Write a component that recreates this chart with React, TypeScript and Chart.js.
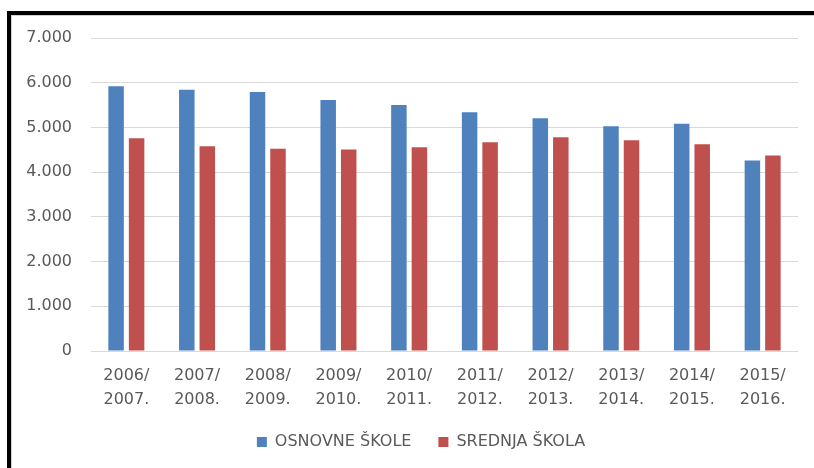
import React, { useEffect, useRef } from "react";
import { Chart, registerables } from "chart.js";

Chart.register(...registerables);

const categories: string[][] = [
  ["2006/", "2007."],
  ["2007/", "2008."],
  ["2008/", "2009."],
  ["2009/", "2010."],
  ["2010/", "2011."],
  ["2011/", "2012."],
  ["2012/", "2013."],
  ["2013/", "2014."],
  ["2014/", "2015."],
  ["2015/", "2016."],
];
const osnovneSkole = [5920, 5840, 5790, 5615, 5500, 5340, 5205, 5025, 5080, 4260];
const srednjaSkola = [4760, 4580, 4525, 4505, 4555, 4670, 4780, 4715, 4625, 4370];
const seriesNames = ["OSNOVNE ŠKOLE", "SREDNJA ŠKOLA"];
const yMax = 7000;
const yStep = 1000;

function fmt(v: number): string {
  if (v === 0) return "0";
  const th = Math.floor(v / 1000);
  const rest = v % 1000;
  return th > 0 ? th + "." + String(rest).padStart(3, "0") : String(rest);
}

const legendShift = {
  id: "legendShift",
  afterLayout(chart: any) {
    if (chart.legend) {
      chart.legend.left = 44;
    }
  },
};

export default function App() {
  const ref = useRef<HTMLCanvasElement | null>(null);
  useEffect(() => {
    if (!ref.current) return;
    const chart = new Chart(ref.current, {
      type: "bar",
      data: {
        labels: categories,
        datasets: [
          {
            label: seriesNames[0],
            data: osnovneSkole,
            backgroundColor: "#4F81BD",
            borderWidth: 0,
            categoryPercentage: 0.58,
            barPercentage: 0.756,
          },
          {
            label: seriesNames[1],
            data: srednjaSkola,
            backgroundColor: "#C0504D",
            borderWidth: 0,
            categoryPercentage: 0.58,
            barPercentage: 0.756,
          },
        ],
      },
      plugins: [legendShift],
      options: {
        responsive: false,
        animation: false,
        devicePixelRatio: 1,
        layout: { padding: { left: 12, right: 16, top: 38, bottom: 8 } },
        font: { family: "'DejaVu Sans'", size: 16 },
        color: "#595959",
        plugins: {
          tooltip: { enabled: false },
          legend: {
            position: "bottom",
            labels: {
              boxWidth: 10,
              boxHeight: 10,
              padding: 27,
              color: "#595959",
              font: { family: "'DejaVu Sans'", size: 16 },
            },
          },
        },
        scales: {
          x: {
            grid: { display: false, drawTicks: false },
            border: { display: false },
            ticks: {
              color: "#595959",
              padding: 13,
              maxRotation: 0,
              autoSkip: false,
              font: { family: "'DejaVu Sans'", size: 16, lineHeight: 1.5 },
            },
            afterFit: (s: any) => {
              s.height = 56;
            },
          },
          y: {
            min: 0,
            max: yMax,
            grid: { color: "#D9D9D9", lineWidth: 1, drawTicks: false },
            border: { display: false },
            ticks: {
              stepSize: yStep,
              color: "#595959",
              padding: 19,
              font: { family: "'DejaVu Sans'", size: 16 },
              callback: (v: any) => fmt(Number(v)),
            },
            afterFit: (s: any) => {
              s.width = 79;
            },
          },
        },
      },
    });
    return () => chart.destroy();
  }, []);

  return (
    <div
      style={{
        position: "fixed",
        left: 0,
        top: 0,
        width: 814,
        height: 468,
        background: "#ffffff",
        overflow: "hidden",
      }}
    >
      <canvas ref={ref} width={814} height={468} style={{ width: 814, height: 468, display: "block" }} />
      <div style={{ position: "absolute", left: 7, top: 11, width: 807, height: 4, background: "#000" }} />
      <div style={{ position: "absolute", left: 11, top: 15, width: 803, height: 1, background: "#d0d0d0" }} />
      <div style={{ position: "absolute", left: 7, top: 11, width: 4, height: 457, background: "#000" }} />
      <div style={{ position: "absolute", left: 11, top: 15, width: 1, height: 453, background: "#d0d0d0" }} />
    </div>
  );
}
